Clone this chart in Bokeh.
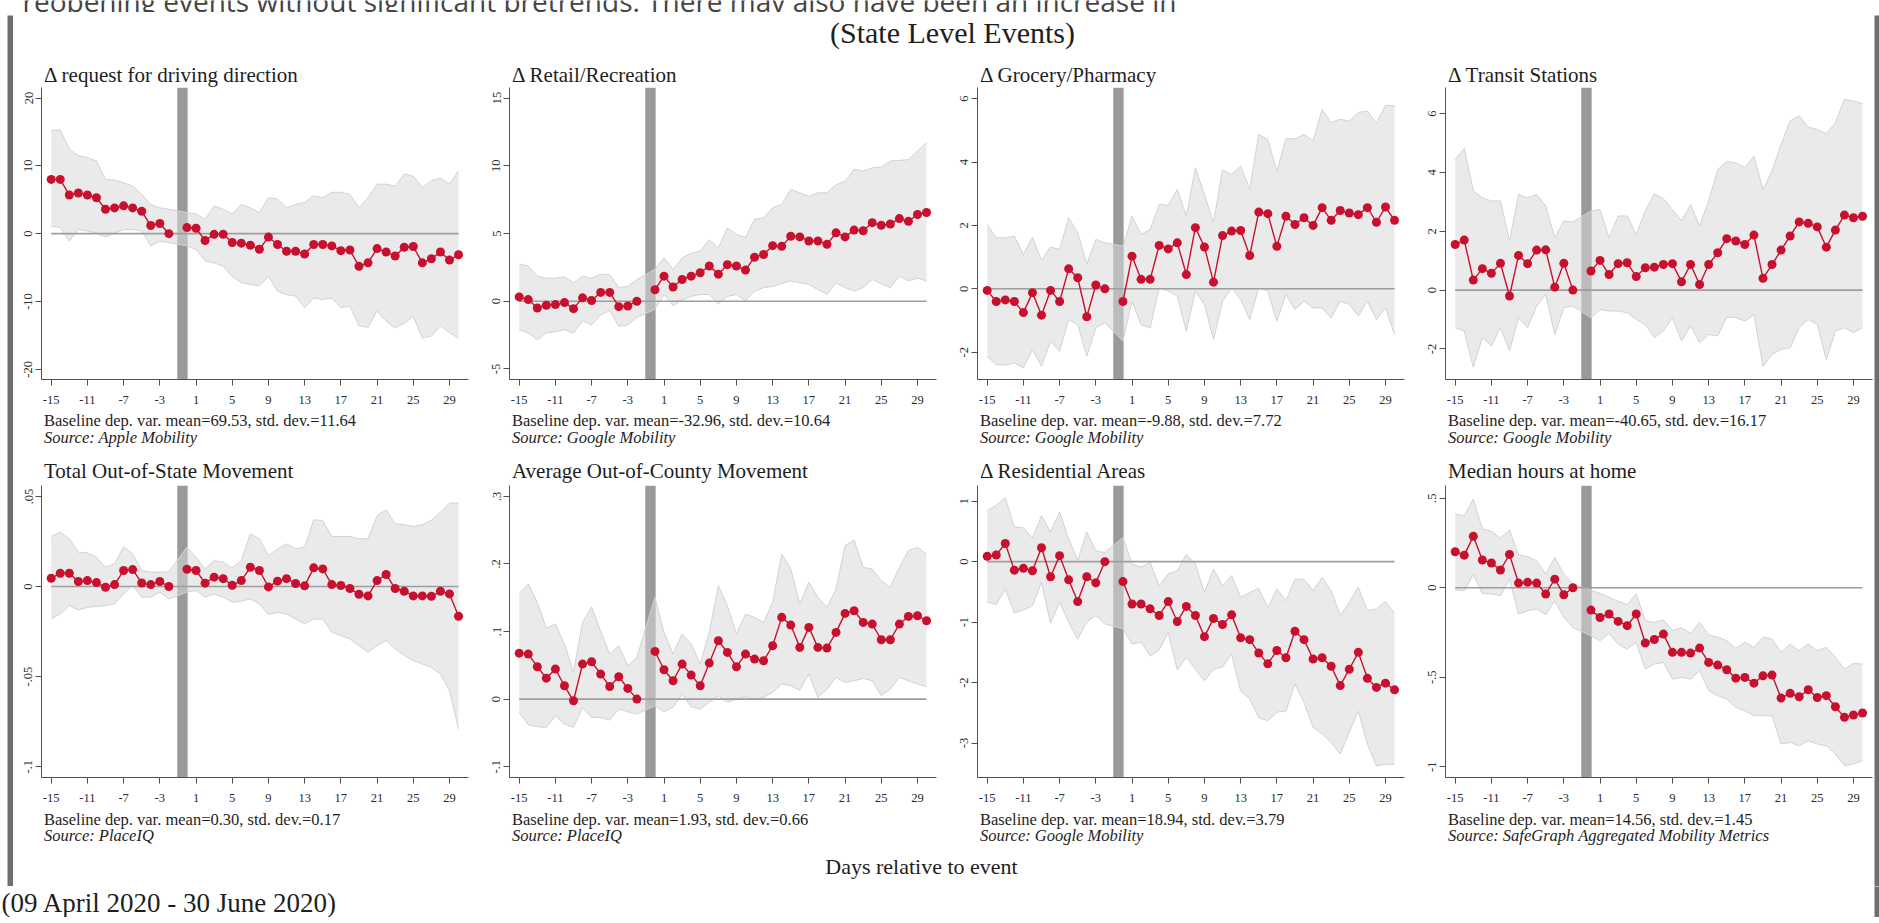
from bokeh.plotting import figure
from bokeh.layouts import row, column
from bokeh.models import Range1d, FixedTicker, ColumnDataSource
from bokeh.core.properties import value
from bokeh.embed import file_html
from bokeh.resources import INLINE

# ---------------- data ----------------
DAYS = [-15, -14, -13, -12, -11, -10, -9, -8, -7, -6, -5, -4, -3, -2,
        0, 1, 2, 3, 4, 5, 6, 7, 8, 9, 10, 11, 12, 13, 14, 15, 16, 17, 18, 19, 20,
        21, 22, 23, 24, 25, 26, 27, 28, 29, 30]

EVENT_DAY = [-0.5]          # position of the reopening marker bar
X_TICKS = [-15, -11, -7, -3, 1, 5, 9, 13, 17, 21, 25, 29]
X_TICK_LABELS = ["-15", "-11", "-7", "-3", "1", "5", "9", "13", "17", "21", "25", "29"]

PANEL_TITLES = ["Δ request for driving direction", "Δ Retail/Recreation",
                "Δ Grocery/Pharmacy", "Δ Transit Stations",
                "Total Out-of-State Movement", "Average Out-of-County Movement",
                "Δ Residential Areas", "Median hours at home"]
BASELINE_NOTES = ["Baseline dep. var. mean=69.53, std. dev.=11.64",
                  "Baseline dep. var. mean=-32.96, std. dev.=10.64",
                  "Baseline dep. var. mean=-9.88, std. dev.=7.72",
                  "Baseline dep. var. mean=-40.65, std. dev.=16.17",
                  "Baseline dep. var. mean=0.30, std. dev.=0.17",
                  "Baseline dep. var. mean=1.93, std. dev.=0.66",
                  "Baseline dep. var. mean=18.94, std. dev.=3.79",
                  "Baseline dep. var. mean=14.56, std. dev.=1.45"]
SOURCES = ["Source: Apple Mobility", "Source: Google Mobility", "Source: Google Mobility",
           "Source: Google Mobility", "Source: PlaceIQ", "Source: PlaceIQ",
           "Source: Google Mobility", "Source: SafeGraph Aggregated Mobility Metrics"]

Y_TICKS = [[20, 10, 0, -10, -20], [15, 10, 5, 0, -5], [6, 4, 2, 0, -2], [6, 4, 2, 0, -2],
           [0.05, 0, -0.05, -0.1], [0.3, 0.2, 0.1, 0, -0.1], [1, 0, -1, -2, -3], [0.5, 0, -0.5, -1]]
Y_TICK_LABELS = [["20", "10", "0", "-10", "-20"], ["15", "10", "5", "0", "-5"],
                 ["6", "4", "2", "0", "-2"], ["6", "4", "2", "0", "-2"],
                 [".05", "0", "-.05", "-.1"], [".3", ".2", ".1", "0", "-.1"],
                 ["1", "0", "-1", "-2", "-3"], [".5", "0", "-.5", "-1"]]
Y_RANGES = [(-21.5, 21.55), (-5.78, 15.78), (-2.86, 6.35), (-3.04, 6.89),
            (-0.106, 0.0561), (-0.116, 0.316), (-3.57, 1.26), (-1.06, 0.571)]
X_RANGE = (-16.07, 31.1)

# 1. driving directions (Apple)
DRIVE_COEF = [8.0, 8.0, 5.7, 6.0, 5.7, 5.3, 3.6, 3.8, 4.1, 3.8, 3.3, 1.2, 1.5, 0.0,
              0.9, 0.8, -1.0, -0.1, -0.1, -1.3, -1.4, -1.7, -2.3, -0.5, -1.6, -2.6, -2.6, -3.0, -1.6,
              -1.6, -1.8, -2.5, -2.4, -4.8, -4.3, -2.2, -2.7, -3.3, -2.0, -1.9, -4.3, -3.7, -2.7, -3.9, -3.1]
DRIVE_UP = [15.2, 15.3, 12.5, 11.5, 11.2, 10.7, 8.0, 7.9, 7.5, 7.0, 5.8, 4.3, 3.8, 3.6,
            3.1, 2.9, 2.1, 4.1, 3.6, 2.9, 4.3, 3.8, 3.1, 5.3, 5.1, 3.8, 4.3, 4.6, 5.6,
            5.3, 6.1, 6.1, 5.8, 3.8, 5.3, 7.3, 7.3, 7.0, 8.8, 8.5, 6.8, 7.8, 8.2, 7.3, 9.3]
DRIVE_LO = [1.1, 0.9, -1.1, 0.6, 0.4, 0.1, -0.5, 0.1, 0.6, 0.6, 0.4, -1.8, -1.1, -1.3,
            -1.8, -2.3, -4.0, -4.3, -4.8, -6.3, -7.2, -7.5, -7.7, -6.3, -8.5, -9.0, -9.2, -10.9, -9.5,
            -9.7, -9.5, -10.9, -10.7, -13.6, -13.8, -11.4, -12.9, -13.9, -13.2, -12.2, -15.4, -15.1, -13.6, -14.6, -15.4]

# 2. retail / recreation
RETAIL_COEF = [0.32, 0.12, -0.5, -0.3, -0.25, -0.1, -0.55, 0.25, 0.05, 0.65, 0.65, -0.4, -0.35, 0.0,
               0.85, 1.85, 1.05, 1.6, 1.85, 2.1, 2.6, 2.0, 2.7, 2.6, 2.3, 3.25, 3.45, 4.1, 4.05,
               4.8, 4.75, 4.45, 4.45, 4.2, 5.05, 4.75, 5.25, 5.2, 5.8, 5.6, 5.7, 6.1, 5.9, 6.4, 6.55]
RETAIL_UP = [2.75, 2.6, 1.85, 1.7, 1.7, 1.8, 1.35, 1.85, 1.7, 2.0, 1.95, 1.0, 1.1, 1.6,
             2.35, 3.2, 2.35, 3.2, 3.55, 3.7, 4.55, 3.95, 5.4, 4.95, 4.7, 6.05, 6.15, 6.9, 7.15,
             8.25, 8.0, 7.75, 8.0, 8.0, 8.6, 8.85, 9.75, 9.6, 9.85, 9.9, 10.35, 10.4, 10.45, 11.1, 11.7]
RETAIL_LO = [-2.1, -2.35, -2.85, -2.35, -2.25, -2.1, -2.35, -1.45, -1.75, -1.0, -0.7, -1.85, -1.75, -1.2,
             -0.6, 0.5, -0.35, 0.1, 0.35, 0.5, 0.5, -0.2, 0.35, 0.5, 0.05, 0.75, 1.0, 1.1, 1.3,
             1.5, 1.35, 1.25, 0.85, 0.5, 1.35, 1.0, 0.75, 1.0, 1.6, 1.3, 1.0, 1.85, 1.5, 1.7, 1.5]

# 3. grocery / pharmacy
GROCERY_COEF = [-0.05, -0.4, -0.35, -0.4, -0.75, -0.12, -0.83, -0.05, -0.4, 0.63, 0.35, -0.88, 0.12, 0.0,
                -0.4, 1.03, 0.3, 0.3, 1.37, 1.26, 1.45, 0.45, 1.93, 1.32, 0.21, 1.68, 1.82, 1.84, 1.05,
                2.42, 2.37, 1.34, 2.29, 2.03, 2.24, 2.0, 2.56, 2.16, 2.47, 2.39, 2.34, 2.56, 2.1, 2.58, 2.16]
GROCERY_UP = [2.03, 1.61, 1.61, 1.66, 1.08, 1.63, 0.9, 1.32, 1.24, 2.24, 1.77, 0.77, 1.56, 1.45,
              1.35, 2.29, 1.72, 1.87, 2.66, 2.64, 3.14, 2.29, 3.82, 2.98, 2.08, 3.75, 3.61, 3.87, 3.14,
              4.87, 4.71, 3.71, 4.73, 4.73, 4.87, 4.66, 5.66, 5.24, 5.35, 5.29, 5.56, 5.61, 5.22, 5.79, 5.77]
GROCERY_LO = [-2.13, -2.39, -2.41, -2.34, -2.49, -1.92, -2.44, -1.65, -1.97, -0.97, -1.13, -2.13, -1.23, -1.07,
              -1.65, -0.39, -1.13, -1.23, 0.03, -0.07, -0.23, -1.34, -0.07, -0.49, -1.6, -0.39, 0.03, -0.34, -0.97,
              0.03, -0.07, -1.02, -0.18, -0.65, -0.39, -0.6, -0.6, -0.92, -0.39, -0.49, -0.86, -0.39, -0.97, -0.6, -1.44]

# 4. transit stations
TRANSIT_COEF = [1.55, 1.7, 0.34, 0.73, 0.57, 0.91, -0.2, 1.18, 0.9, 1.36, 1.37, 0.1, 0.91, 0.0,
                0.65, 1.01, 0.53, 0.9, 0.93, 0.46, 0.76, 0.78, 0.87, 0.9, 0.28, 0.87, 0.19, 0.87, 1.27,
                1.75, 1.67, 1.55, 1.87, 0.4, 0.87, 1.36, 1.84, 2.32, 2.27, 2.15, 1.46, 2.04, 2.55, 2.46, 2.51]
TRANSIT_UP = [4.44, 4.82, 3.37, 3.14, 3.03, 3.03, 1.67, 3.25, 3.14, 3.25, 2.86, 1.78, 2.35, 2.32,
              2.69, 2.74, 1.78, 2.52, 2.52, 1.89, 2.69, 3.28, 3.11, 2.74, 2.35, 2.91, 2.18, 3.03, 4.1,
              4.37, 4.33, 4.16, 4.56, 3.42, 4.05, 4.95, 5.75, 5.92, 5.54, 5.46, 5.32, 5.69, 6.49, 6.43, 6.34]
TRANSIT_LO = [-1.28, -1.39, -2.62, -1.62, -1.9, -1.28, -2.07, -0.94, -1.28, -0.54, -0.15, -1.51, -0.6, -0.54,
              -0.94, -0.66, -0.71, -0.71, -0.77, -1.0, -1.17, -1.62, -1.39, -0.94, -1.73, -1.22, -1.79, -1.51, -1.56,
              -0.92, -0.94, -1.05, -0.83, -2.59, -2.19, -2.02, -1.96, -1.28, -1.0, -1.17, -2.36, -1.39, -1.28, -1.45, -1.28]

# 5. total out-of-state movement
OOS_COEF = [0.0046, 0.0074, 0.0074, 0.0028, 0.0033, 0.0022, -0.0004, 0.0011, 0.0089, 0.0094, 0.002, 0.0011, 0.0028, 0.0,
            0.0096, 0.0089, 0.0019, 0.0052, 0.0044, 0.0007, 0.0033, 0.0107, 0.0089, -0.0002, 0.003, 0.0044, 0.0017, 0.0004, 0.0104,
            0.0098, 0.0011, 0.0006, -0.0011, -0.0043, -0.0052, 0.0033, 0.0067, -0.0011, -0.0026, -0.0052, -0.0052, -0.0054, -0.0026, -0.0041, -0.0165]
OOS_UP = [0.0278, 0.0302, 0.0265, 0.0191, 0.0187, 0.0163, 0.0107, 0.0126, 0.0222, 0.0181, 0.0089, 0.008, 0.008, 0.0083,
          0.0219, 0.0163, 0.0098, 0.0144, 0.0135, 0.0104, 0.0144, 0.0293, 0.0265, 0.0172, 0.0209, 0.0237, 0.0209, 0.0219, 0.037,
          0.0367, 0.0278, 0.0278, 0.0278, 0.0265, 0.0265, 0.0394, 0.0426, 0.0348, 0.0344, 0.0333, 0.0344, 0.0367, 0.0413, 0.0463, 0.0463]
OOS_LO = [-0.018, -0.0152, -0.0106, -0.013, -0.0115, -0.0111, -0.0106, -0.0096, -0.0041, 0.0006, -0.0059, -0.0059, -0.0031, -0.0069,
          -0.0031, -0.0022, -0.0059, -0.0041, -0.0059, -0.0087, -0.0081, -0.0069, -0.0096, -0.0156, -0.0143, -0.0152, -0.018, -0.0207, -0.018,
          -0.018, -0.0254, -0.0272, -0.0291, -0.0328, -0.0365, -0.0328, -0.03, -0.0346, -0.0383, -0.0411, -0.043, -0.0448, -0.0485, -0.0578, -0.0791]

# 6. average out-of-county movement
OOC_COEF = [0.068, 0.0666, 0.0479, 0.031, 0.0444, 0.0197, -0.0025, 0.0518, 0.0553, 0.037, 0.0187, 0.033, 0.0158, 0.0,
            0.0705, 0.0434, 0.0271, 0.0518, 0.0355, 0.0197, 0.0533, 0.0863, 0.0691, 0.0479, 0.0666, 0.0592, 0.0567, 0.0789, 0.1209,
            0.1095, 0.0765, 0.1061, 0.0765, 0.0755, 0.0987, 0.1268, 0.1307, 0.1135, 0.111, 0.0878, 0.0878, 0.111, 0.1223, 0.1233, 0.1159]
OOC_UP = [0.1564, 0.1702, 0.1431, 0.1051, 0.111, 0.0814, 0.0395, 0.1135, 0.1367, 0.1002, 0.0666, 0.0789, 0.0493, 0.0617,
          0.1505, 0.0987, 0.0666, 0.0962, 0.0814, 0.0518, 0.0987, 0.1677, 0.1381, 0.0962, 0.1258, 0.1209, 0.1135, 0.1431, 0.2146,
          0.1924, 0.1406, 0.1727, 0.1505, 0.1357, 0.1628, 0.2269, 0.2353, 0.1949, 0.1924, 0.1751, 0.1653, 0.1949, 0.2195, 0.2245, 0.2146]
OOC_LO = [-0.0197, -0.038, -0.0409, -0.0419, -0.0247, -0.037, -0.0419, -0.0123, -0.0271, -0.0271, -0.0311, -0.0148, -0.0187, -0.0222,
          -0.0099, -0.0187, -0.0123, 0.0074, -0.0113, -0.0148, -0.0049, 0.0049, -0.0049, 0.0, 0.0035, -0.0015, 0.0025, 0.0099, 0.0222,
          0.0197, 0.0133, 0.037, 0.0025, 0.0148, 0.0321, 0.0247, 0.0271, 0.0306, 0.0271, 0.0049, 0.0148, 0.0321, 0.0271, 0.0222, 0.0183]

# 7. residential areas
RESID_COEF = [0.088, 0.11, 0.30, -0.14, -0.11, -0.15, 0.23, -0.25, 0.10, -0.3, -0.66, -0.25, -0.35, 0.0,
              -0.33, -0.7, -0.7, -0.78, -0.89, -0.66, -0.99, -0.74, -0.89, -1.24, -0.94, -1.04, -0.88, -1.26, -1.29,
              -1.51, -1.69, -1.47, -1.59, -1.15, -1.29, -1.61, -1.59, -1.73, -2.05, -1.78, -1.5, -1.93, -2.08, -2.01, -2.12]
RESID_UP = [0.84, 0.93, 1.06, 0.57, 0.56, 0.39, 0.76, 0.49, 0.82, 0.38, 0.02, 0.49, 0.18, 0.15,
            0.4, -0.04, -0.09, -0.01, -0.4, -0.2, -0.15, 0.12, -0.04, -0.51, -0.12, -0.4, -0.23, -0.59, -0.51,
            -0.44, -0.76, -0.45, -0.65, -0.29, -0.29, -0.48, -0.26, -0.48, -0.89, -0.67, -0.42, -0.81, -0.78, -0.66, -0.85]
RESID_LO = [-0.67, -0.71, -0.45, -0.85, -0.8, -0.73, -0.34, -1.02, -0.67, -1.0, -1.28, -1.0, -0.89, -1.03,
            -1.11, -1.36, -1.33, -1.56, -1.46, -1.17, -1.79, -1.58, -1.78, -1.97, -1.78, -1.74, -1.53, -2.14, -2.27,
            -2.58, -2.63, -2.49, -2.47, -2.02, -2.33, -2.74, -2.85, -2.99, -3.18, -2.82, -2.47, -3.02, -3.38, -3.35, -3.36]

# 8. median hours at home
HOME_COEF = [0.201, 0.182, 0.287, 0.155, 0.138, 0.099, 0.186, 0.026, 0.03, 0.026, -0.035, 0.048, -0.039, 0.0,
             -0.125, -0.166, -0.147, -0.188, -0.212, -0.147, -0.309, -0.289, -0.259, -0.361, -0.361, -0.365, -0.337, -0.417, -0.432,
             -0.458, -0.505, -0.501, -0.533, -0.492, -0.488, -0.616, -0.59, -0.609, -0.57, -0.613, -0.603, -0.665, -0.724, -0.711, -0.7]
HOME_UP = [0.412, 0.402, 0.495, 0.328, 0.315, 0.277, 0.322, 0.184, 0.173, 0.151, 0.076, 0.169, 0.076, 0.02,
           -0.013, -0.032, -0.054, -0.076, -0.095, -0.035, -0.184, -0.194, -0.179, -0.24, -0.222, -0.255, -0.194, -0.263, -0.277,
           -0.296, -0.339, -0.305, -0.333, -0.277, -0.287, -0.361, -0.315, -0.352, -0.315, -0.352, -0.333, -0.389, -0.454, -0.423, -0.426]
HOME_LO = [-0.013, -0.017, 0.073, -0.032, -0.035, -0.045, 0.048, -0.147, -0.128, -0.119, -0.151, -0.073, -0.166, -0.222,
           -0.268, -0.296, -0.255, -0.315, -0.343, -0.305, -0.454, -0.426, -0.417, -0.51, -0.501, -0.51, -0.464, -0.575, -0.603,
           -0.622, -0.668, -0.687, -0.715, -0.715, -0.715, -0.873, -0.864, -0.883, -0.855, -0.873, -0.883, -0.929, -0.994, -0.985, -0.966]

COEFS = [DRIVE_COEF, RETAIL_COEF, GROCERY_COEF, TRANSIT_COEF, OOS_COEF, OOC_COEF, RESID_COEF, HOME_COEF]
UPPERS = [DRIVE_UP, RETAIL_UP, GROCERY_UP, TRANSIT_UP, OOS_UP, OOC_UP, RESID_UP, HOME_UP]
LOWERS = [DRIVE_LO, RETAIL_LO, GROCERY_LO, TRANSIT_LO, OOS_LO, OOC_LO, RESID_LO, HOME_LO]

MAIN_TITLE = "(State Level Events)"
X_TITLE = "Days relative to event"
DATE_NOTE = "(09 April 2020 - 30 June 2020)"
TOP_CUT_TEXT = "reopening events without significant pretrends. There may also have been an increase in"

# ---------------- style ----------------
SERIF = "Liberation Serif"
RED = "#c8102e"
BORDER_GRAY = "#6e6e6e"
TEXT_COLOR = "#1e1e1e"
AXIS_COLOR = "#505050"

CONTENT_W = 1861
CELL_W = [468, 468, 468, 457]
FRAME_L = 28
FRAME_W = 427
PANEL_H = 320
FRAME_BOTTOM = 28


def pad(w, h, color):
    p = figure(width=w, height=h, x_axis_type=None, y_axis_type=None, min_border=0,
               toolbar_location=None, output_backend="svg",
               background_fill_color=color, border_fill_color=color, outline_line_color=None)
    p.grid.visible = False
    return p


def strip(w, h):
    p = figure(width=w, height=h, x_range=Range1d(0, w), y_range=Range1d(h, 0),
               x_axis_type=None, y_axis_type=None, min_border=0,
               toolbar_location=None, output_backend="svg",
               background_fill_color="white", border_fill_color="white", outline_line_color=None)
    p.grid.visible = False
    return p


def add_text(p, xs, ys, texts, size, style="normal", align="left", font=SERIF, color=TEXT_COLOR):
    # ys are wanted baselines; shift for the way the svg backend places alphabetic text
    px = float(size.replace("px", ""))
    src = ColumnDataSource(dict(x=xs, y=[y - 0.35 * px for y in ys], t=texts))
    p.text(x="x", y="y", text="t", source=src, text_font=value(font), text_font_size=size,
           text_font_style=style, text_align=align, text_baseline="alphabetic", text_color=color)


def panel(i, cw):
    lo_y, hi_y = Y_RANGES[i]
    p = figure(width=cw, height=PANEL_H, x_range=Range1d(*X_RANGE), y_range=Range1d(lo_y, hi_y),
               min_border_left=FRAME_L, min_border_right=cw - FRAME_L - FRAME_W,
               min_border_top=0, min_border_bottom=FRAME_BOTTOM,
               toolbar_location=None, output_backend="svg",
               background_fill_color="white", border_fill_color="white", outline_line_color=None)
    p.grid.visible = False

    # reopening marker bar
    p.vbar(x=EVENT_DAY, width=1.15, bottom=lo_y, top=hi_y, fill_color="#9a9a9a", line_color=None)
    # confidence band
    p.varea(x=DAYS, y1=LOWERS[i], y2=UPPERS[i], fill_color="#d9d9d9", fill_alpha=0.55)
    p.line(DAYS, UPPERS[i], line_color="#d2d2d2", line_width=1)
    p.line(DAYS, LOWERS[i], line_color="#d2d2d2", line_width=1)
    # zero reference line
    p.line([DAYS[0], DAYS[-1]], [0, 0], line_color="#9e9e9e", line_width=1.6)
    # point estimates, pre and post segments
    pre = [k for k, d in enumerate(DAYS) if d < -1]
    post = [k for k, d in enumerate(DAYS) if d >= 0]
    for idx in (pre, post):
        xs = [DAYS[k] for k in idx]
        ys = [COEFS[i][k] for k in idx]
        p.line(xs, ys, line_color=RED, line_width=1.4)
        p.scatter(xs, ys, size=9, fill_color=RED, line_color=None)

    for ax in (p.xaxis, p.yaxis):
        ax.axis_line_color = AXIS_COLOR
        ax.axis_line_width = 1
        ax.major_tick_line_color = AXIS_COLOR
        ax.major_tick_out = 6
        ax.major_tick_in = 0
        ax.minor_tick_line_color = None
        ax.major_label_text_font = SERIF
        ax.major_label_text_font_size = "12.5px"
        ax.major_label_text_color = "#2a2a2a"
    p.xaxis.ticker = FixedTicker(ticks=X_TICKS)
    p.xaxis.major_label_overrides = dict(zip(X_TICKS, X_TICK_LABELS))
    p.xaxis.major_label_standoff = 10
    p.yaxis.ticker = FixedTicker(ticks=Y_TICKS[i])
    p.yaxis.major_label_overrides = dict(zip(Y_TICKS[i], Y_TICK_LABELS[i]))
    p.yaxis.major_label_orientation = "vertical"
    p.yaxis.major_label_standoff = 3
    return p


# ---------------- text strips ----------------
title_x = [FRAME_L + 2.5 + 468 * c for c in range(4)]

s1 = strip(CONTENT_W, 72)
add_text(s1, [939], [27], [MAIN_TITLE], "30px", align="center")
add_text(s1, title_x, [67] * 4, PANEL_TITLES[:4], "21px")

s2 = strip(CONTENT_W, 78)
add_text(s2, title_x, [19] * 4, BASELINE_NOTES[:4], "16.5px")
add_text(s2, title_x, [36] * 4, SOURCES[:4], "16.5px", style="italic")
add_text(s2, title_x, [71] * 4, PANEL_TITLES[4:], "21px")

s3 = strip(CONTENT_W, 81)
add_text(s3, title_x, [20] * 4, BASELINE_NOTES[4:], "16.5px")
add_text(s3, title_x, [36] * 4, SOURCES[4:], "16.5px", style="italic")
add_text(s3, [908], [69], [X_TITLE], "22px", align="center")

row1 = row(*[panel(c, CELL_W[c]) for c in range(4)])
row2 = row(*[panel(4 + c, CELL_W[c]) for c in range(4)])
content = column(s1, row1, s2, row2, s3)

top = strip(1879, 12)
add_text(top, [22], [10.5], [TOP_CUT_TEXT], "28px", font="Open Sans", color="#444444")

bottom = strip(1874, 31)
add_text(bottom, [1], [26], [DATE_NOTE], "27px")

layout = column(
    top,
    row(pad(7, 3, "white"), pad(1872, 3, BORDER_GRAY)),
    row(pad(7, 871, "white"), pad(6, 871, BORDER_GRAY), content, pad(5, 871, BORDER_GRAY)),
    row(bottom, pad(5, 31, BORDER_GRAY)),
    row(pad(7, 3, "white"), pad(1872, 3, BORDER_GRAY)),
    pad(1879, 2, "white"),
)

open("out.html", "w").write(file_html(layout, INLINE, title="State Level Events"))
